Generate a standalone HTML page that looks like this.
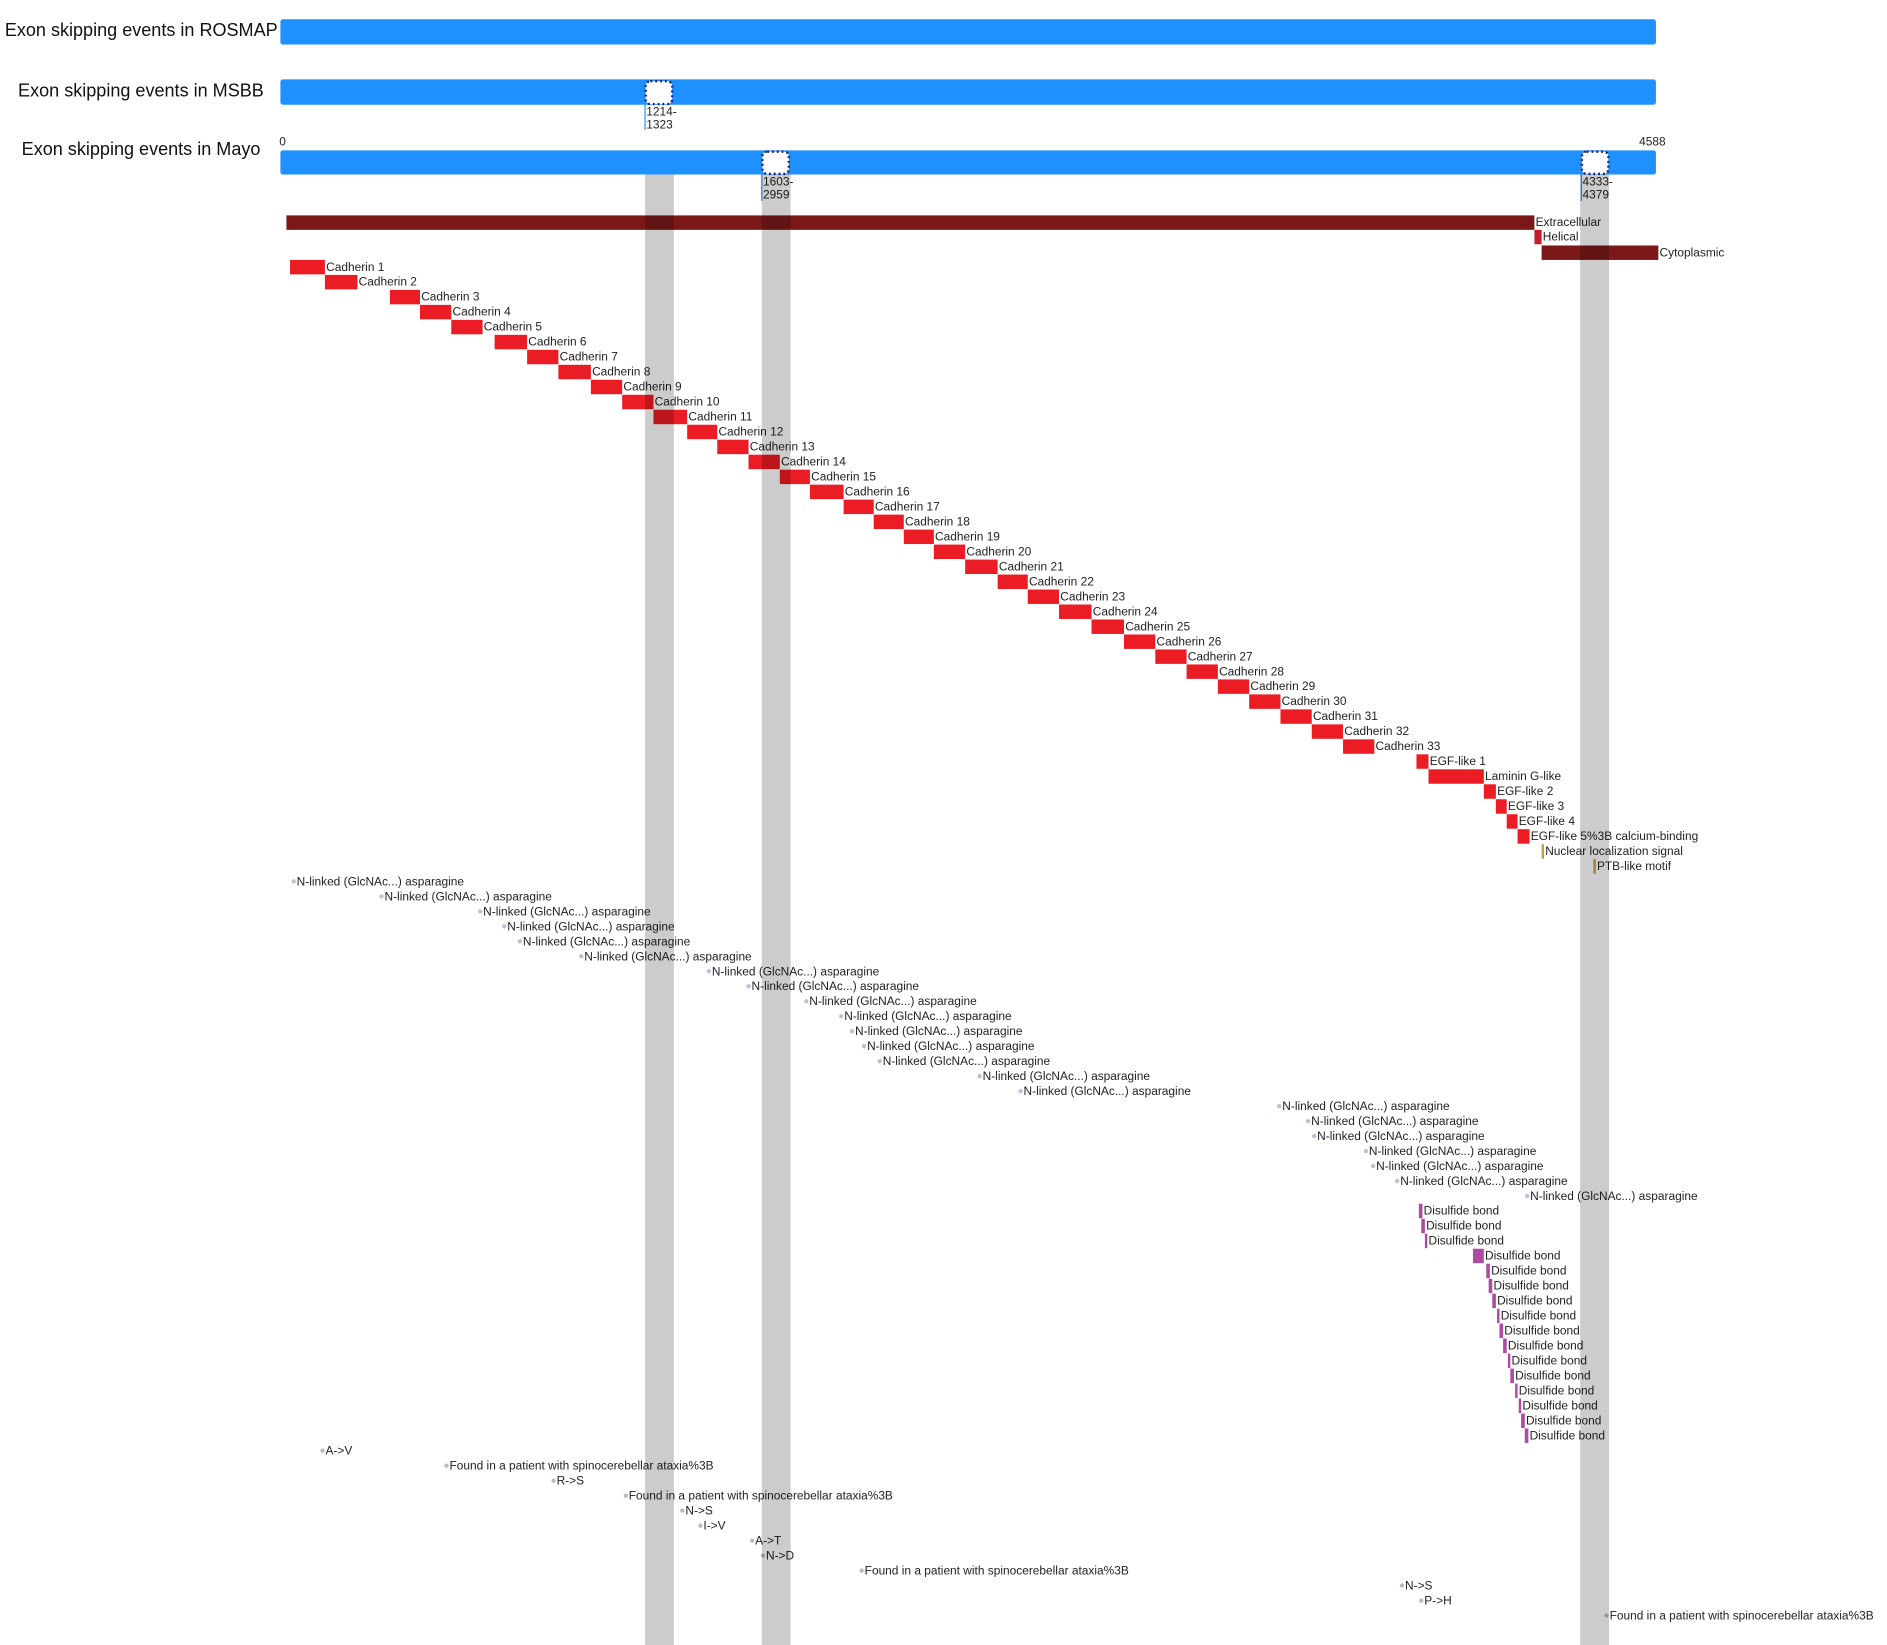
<!DOCTYPE html>
<html><head><meta charset="utf-8"><style>
html,body{margin:0;padding:0;background:#fff;}
svg{display:block;}
text{font-family:"Liberation Sans",Arial,sans-serif;fill:#222;}
.s{font-size:9.9px;}
.t{font-size:15px;fill:#111;}
</style></head><body>
<svg id="g" width="1887" height="1645" viewBox="0 0 1568 1367" preserveAspectRatio="none" xmlns="http://www.w3.org/2000/svg">
<text class="t" x="4" y="30">Exon skipping events in ROSMAP</text>
<rect x="233" y="16" width="1143" height="21" rx="2" fill="#1e90ff"/>
<text class="t" x="15" y="80">Exon skipping events in MSBB</text>
<rect x="233" y="66" width="1143" height="21" rx="2" fill="#1e90ff"/>
<rect x="536.5" y="67.5" width="22" height="19" rx="4" fill="#fff" stroke="#1a1a70" stroke-width="2" stroke-dasharray="1.5,2.5"/>
<line x1="536" y1="87" x2="536" y2="108" stroke="#1e90ff" stroke-width="1"/>
<text class="s" x="537" y="96">1214-</text><text class="s" x="537" y="107">1323</text>
<text class="t" x="18" y="129">Exon skipping events in Mayo</text>
<text class="s" x="232" y="121">0</text><text class="s" x="1362" y="121">4588</text>
<rect x="233" y="125" width="1143" height="20" rx="2" fill="#1e90ff"/>
<rect x="633.5" y="126" width="22" height="18.5" rx="4" fill="#fff" stroke="#1a1a70" stroke-width="2" stroke-dasharray="1.5,2.5"/>
<rect x="1314.5" y="126" width="22" height="18.5" rx="4" fill="#fff" stroke="#1a1a70" stroke-width="2" stroke-dasharray="1.5,2.5"/>
<line x1="633" y1="145" x2="633" y2="167" stroke="#1e90ff"/>
<line x1="1314" y1="145" x2="1314" y2="167" stroke="#1e90ff"/>
<text class="s" x="634" y="154">1603-</text><text class="s" x="634" y="165">2959</text>
<text class="s" x="1315" y="154">4333-</text><text class="s" x="1315" y="165">4379</text>

<rect x="238" y="179" width="1037" height="12" fill="#7b1818"/>
<text class="s" x="1276" y="188">Extracellular</text>
<rect x="1275" y="191" width="6" height="12" fill="#c0202e"/>
<text class="s" x="1282" y="200">Helical</text>
<rect x="1281" y="204" width="97" height="12" fill="#7b1818"/>
<text class="s" x="1379" y="213">Cytoplasmic</text>

<g id="feat"></g>
<rect x="536" y="145" width="24" height="1222" fill="#000" opacity="0.2"/>
<rect x="633" y="145" width="24" height="1222" fill="#000" opacity="0.2"/>
<rect x="1313" y="145" width="24" height="1222" fill="#000" opacity="0.2"/>
</svg>
<script>
var g=document.getElementById('feat'),h='';
function R(i){return 216+12.45*i;}
function box(x1,x2,i,c,label){var y=R(i);h+='<rect x="'+x1+'" y="'+y+'" width="'+(x2-x1)+'" height="12" fill="'+c+'"/><text class="s" x="'+(x2+1)+'" y="'+(y+9)+'">'+label+'</text>';}
function dot(x,i,c,label){var y=R(i)+6;h+='<circle cx="'+x+'" cy="'+y+'" r="1.8" fill="'+c+'"/><text class="s" x="'+(x+2.5)+'" y="'+(y+3.3)+'">'+label+'</text>';}
var ends=[270,297,349,375,401,438,464,491,517,543,571,596,622,648,673,701,726,751,776,802,829,854,880,907,934,960,986,1012,1038,1064,1090,1116,1142];
var st={0:241,2:324,5:411};
for(var k=0;k<33;k++){var s=st[k]!==undefined?st[k]:ends[k-1];box(s,ends[k],k,'#ec1c24','Cadherin '+(k+1));}
var r=33;
box(1177,1187,r++,'#ec1c24','EGF-like 1');
box(1187,1233,r++,'#ec1c24','Laminin G-like');
box(1233,1243,r++,'#ec1c24','EGF-like 2');
box(1243,1252,r++,'#ec1c24','EGF-like 3');
box(1252,1261,r++,'#ec1c24','EGF-like 4');
box(1261,1271,r++,'#ec1c24','EGF-like 5%3B calcium-binding');
box(1281,1283,r++,'#c8a040','Nuclear localization signal');
box(1324,1326,r++,'#c8a040','PTB-like motif');
var nl=[244,317,399,419,432,483,589,622,670,699,708,718,731,814,848,1063,1087,1092,1135,1141,1161,1269];
nl.forEach(function(x){dot(x,r++,'#c8b8dc','N-linked (GlcNAc...) asparagine');});
var ds=[[1179,1182],[1181,1184],[1184,1186],[1224,1233],[1235,1238],[1237,1240],[1240,1243],[1244,1246],[1246,1249],[1249,1252],[1253,1255],[1255,1258],[1259,1261],[1262,1264],[1264,1267],[1267,1270]];
ds.forEach(function(d){box(d[0],d[1],r++,'#b04aa0','Disulfide bond');});
var F='Found in a patient with spinocerebellar ataxia%3B';
var vv=[[268,'A-&gt;V'],[371,F],[460,'R-&gt;S'],[520,F],[567,'N-&gt;S'],[582,'I-&gt;V'],[625,'A-&gt;T'],[634,'N-&gt;D'],[716,F],[1165,'N-&gt;S'],[1181,'P-&gt;H'],[1335,F]];
vv.forEach(function(v){dot(v[0],r++,'#bbbbbb',v[1]);});
g.innerHTML=h;
</script>
</body></html>
